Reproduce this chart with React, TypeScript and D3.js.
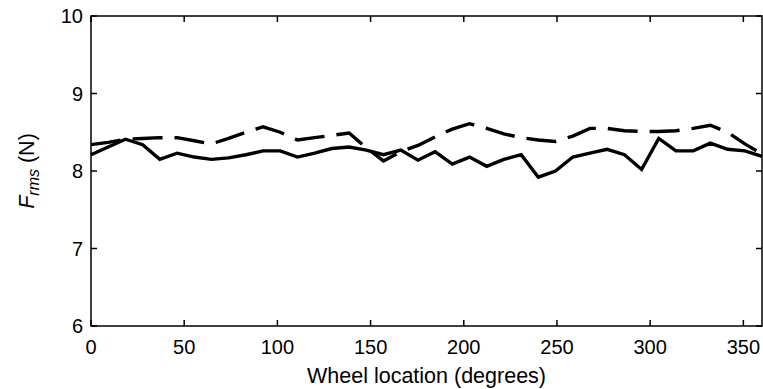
import React from "react";
import * as d3 from "d3";

const angles = [0, 9.2, 18.5, 27.7, 36.9, 46.2, 55.4, 64.6, 73.8, 83.1, 92.3, 101.5, 110.8, 120, 129.2, 138.5, 147.7, 156.9, 166.2, 175.4, 184.6, 193.8, 203.1, 212.3, 221.5, 230.8, 240, 249.2, 258.5, 267.7, 276.9, 286.2, 295.4, 304.6, 313.8, 323.1, 332.3, 341.5, 350.8, 360];

const solidValues = [8.21, 8.31, 8.41, 8.34, 8.15, 8.23, 8.18, 8.15, 8.17, 8.21, 8.26, 8.26, 8.18, 8.23, 8.29, 8.31, 8.27, 8.21, 8.27, 8.14, 8.25, 8.09, 8.18, 8.06, 8.15, 8.21, 7.92, 8.0, 8.18, 8.23, 8.28, 8.21, 8.02, 8.42, 8.26, 8.26, 8.36, 8.28, 8.26, 8.19];

const dashedValues = [8.34, 8.37, 8.41, 8.42, 8.43, 8.43, 8.39, 8.35, 8.42, 8.5, 8.57, 8.5, 8.4, 8.43, 8.46, 8.49, 8.3, 8.13, 8.25, 8.33, 8.44, 8.54, 8.61, 8.55, 8.48, 8.43, 8.4, 8.38, 8.45, 8.55, 8.55, 8.52, 8.51, 8.51, 8.52, 8.55, 8.59, 8.5, 8.35, 8.22];

const xTicks = [0, 50, 100, 150, 200, 250, 300, 350];
const yTicks = [6, 7, 8, 9, 10];

const W = 763;
const H = 389;
const left = 91;
const right = 762;
const top = 16;
const bottom = 326;
const font = "Arial, 'Liberation Sans', Helvetica, sans-serif";

export default function App() {
  const x = d3.scaleLinear().domain([0, 360]).range([left, right]);
  const y = d3.scaleLinear().domain([6, 10]).range([bottom, top]);
  const line = d3
    .line<number>()
    .x((_, i) => x(angles[i]))
    .y((d) => y(d));
  const tl = 6;
  return (
    <svg
      width={W}
      height={H}
      style={{ position: "absolute", left: 0, top: 0, background: "#fff" }}
      fontFamily={font}
    >
      <rect x={0} y={0} width={W} height={H} fill="#fff" />
      <path d={line(solidValues) || ""} fill="none" stroke="#000" strokeWidth={3.4} strokeLinejoin="miter" />
      <path
        d={line(dashedValues) || ""}
        fill="none"
        stroke="#000"
        strokeWidth={3.4}
        strokeDasharray="30,12"
        strokeLinejoin="miter"
      />
      <rect x={left} y={top} width={right - left} height={bottom - top} fill="none" stroke="#000" strokeWidth={1.5} />
      {xTicks.map((t) => (
        <g key={"x" + t}>
          <line x1={x(t)} x2={x(t)} y1={bottom} y2={bottom - tl} stroke="#000" strokeWidth={1.5} />
          <line x1={x(t)} x2={x(t)} y1={top} y2={top + tl} stroke="#000" strokeWidth={1.5} />
          <text x={x(t)} y={354} textAnchor="middle" fontSize={20} fill="#000">
            {t}
          </text>
        </g>
      ))}
      {yTicks.map((t) => (
        <g key={"y" + t}>
          <line x1={left} x2={left + tl} y1={y(t)} y2={y(t)} stroke="#000" strokeWidth={1.5} />
          <line x1={right} x2={right - tl} y1={y(t)} y2={y(t)} stroke="#000" strokeWidth={1.5} />
          <text x={83} y={y(t) + 7} textAnchor="end" fontSize={20} fill="#000">
            {t}
          </text>
        </g>
      ))}
      <text x={(left + right) / 2} y={383} textAnchor="middle" fontSize={21.5} fill="#000">
        Wheel location (degrees)
      </text>
      <text
        transform={`translate(34, ${(top + bottom) / 2}) rotate(-90)`}
        textAnchor="middle"
        fontSize={21.5}
        fill="#000"
      >
        <tspan fontStyle="italic">F</tspan>
        <tspan fontStyle="italic" fontSize={16} dy={5}>rms</tspan>
        <tspan dy={-5}> (N)</tspan>
      </text>
    </svg>
  );
}
